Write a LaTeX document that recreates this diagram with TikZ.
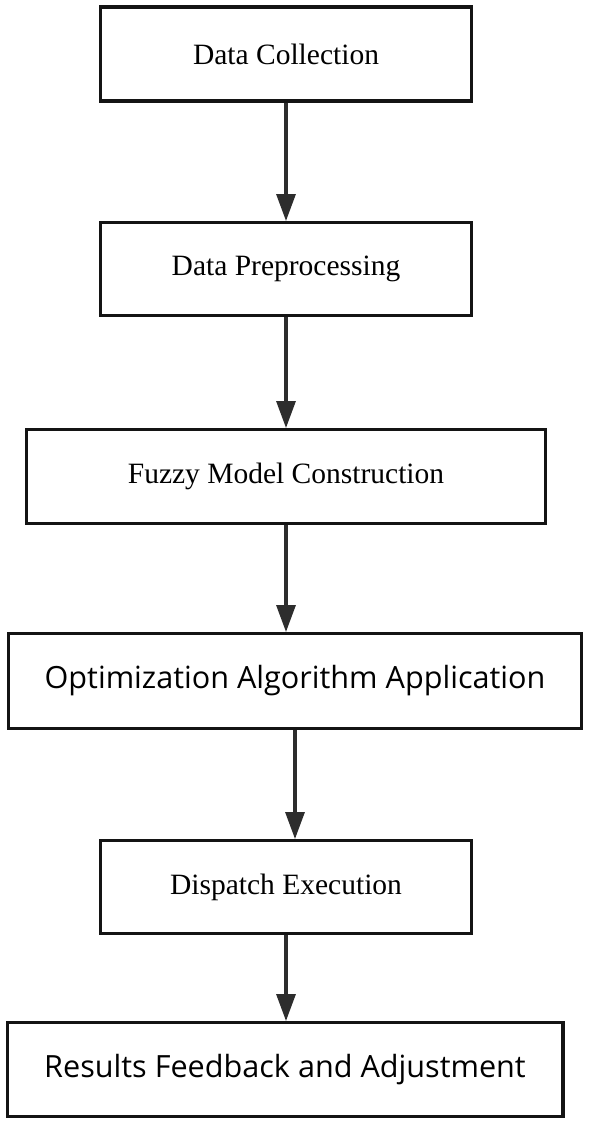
\documentclass[tikz,border=0pt]{standalone}
\usepackage{fontspec}
\setmainfont{Liberation Serif}
\newfontfamily\uifont{Open Sans}
\usepackage{tikz}
\usetikzlibrary{arrows.meta,calc}
\definecolor{darkline}{RGB}{20,20,20}
\definecolor{arrowgray}{RGB}{45,45,45}

\begin{document}
\begin{tikzpicture}
\tikzstyle{process} = [rectangle, minimum width=370.8pt, minimum height=93.8pt, text centered, draw=darkline, line width=3.2pt, font=\fontsize{29.5}{35}\selectfont]
\tikzstyle{wideprocess} = [process, font=\uifont\fontsize{30.6}{36}\selectfont]
\tikzstyle{arrow} = [line width=3.2pt, draw=arrowgray, -{Triangle[length=27pt,width=19pt]}]

\useasboundingbox (0,0) rectangle (591pt,-1124pt);

\node (DataCollection) [process] at (286pt,-54pt) {Data Collection};
\node (DataPreprocessing) [process, minimum height=92.8pt] at (286pt,-269pt) {Data Preprocessing};
\node (FuzzyModel) [process, minimum width=518.8pt] at (286pt,-476.5pt) {Fuzzy Model Construction};
\node (OptimizationAlgorithm) [wideprocess, minimum width=572.8pt, minimum height=94.8pt] at (295pt,-681pt) {Optimization Algorithm Application};
\node (DispatchExecution) [process, minimum height=92.8pt] at (286pt,-887pt) {Dispatch Execution};
\node (ResultsFeedback) [wideprocess, minimum width=555.8pt] at (285pt,-1069.5pt) {Results Feedback and Adjustment};

\draw [arrow] (DataCollection) -- (DataPreprocessing);
\draw [arrow] (DataPreprocessing) -- (FuzzyModel);
\draw [arrow] (FuzzyModel.south) -- (FuzzyModel.south |- OptimizationAlgorithm.north);
\draw [arrow] (OptimizationAlgorithm.south) -- (OptimizationAlgorithm.south |- DispatchExecution.north);
\draw [arrow] (DispatchExecution.south) -- (DispatchExecution.south |- ResultsFeedback.north);
\end{tikzpicture}
\end{document}
